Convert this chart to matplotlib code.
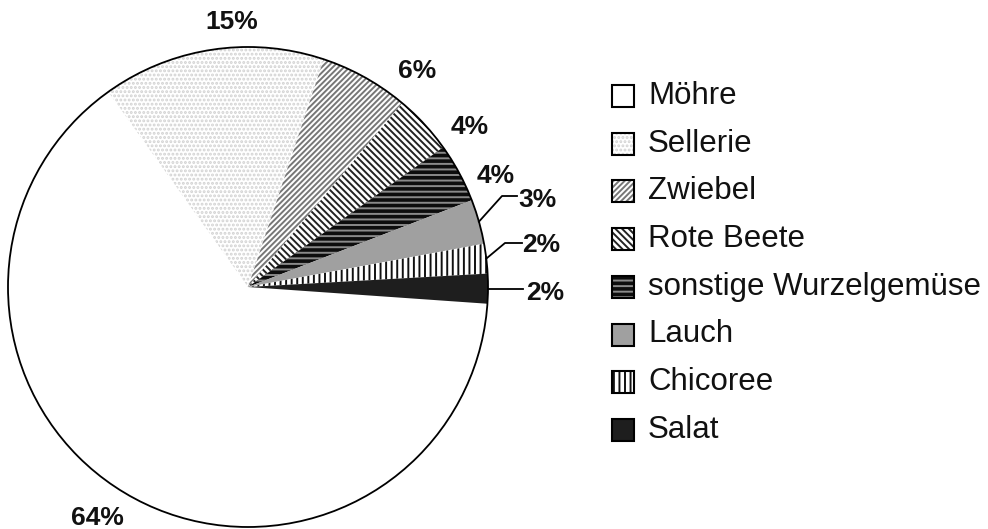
#!/usr/bin/env python3
"""
Pie chart: Anteile der Gemüsearten (Möhre, Sellerie, ...), Schwarz-Weiß-Muster.
"""

import numpy as np
import matplotlib
matplotlib.use("Agg")
import matplotlib.pyplot as plt
from matplotlib.patches import Rectangle, Circle

plt.rcParams['font.family'] = ['Liberation Sans', 'DejaVu Sans']
plt.rcParams['hatch.linewidth'] = 1.4

# --- Data
names = ['Möhre', 'Sellerie', 'Zwiebel', 'Rote Beete',
         'sonstige Wurzelgemüse', 'Lauch', 'Chicoree', 'Salat']
shares = [64, 15, 6, 4, 4, 3, 2, 2]
pct_labels = ['64%', '15%', '6%', '4%', '4%', '3%', '2%', '2%']

# --- Styles (facecolor, hatch, hatch colour)
faces = ['white', 'white', 'white', 'white', '#0d0d0d', '#a0a0a0', 'white', '#1e1e1e']
hatches = [None, '....', '//////', '\\\\\\\\\\', '---', None, '|||', None]
hatch_cols = ['black', '#d2d2d2', '#777777', '#222222', '#8a8a8a', '#a0a0a0', '#111111', '#1e1e1e']

# --- Layout in pixel units (y measured from the top of the image)
W, H = 988, 529
cx, cy, R = 248, 287, 240
label_pos = [(97, 518), (232, 22), (417, 71), (470, 127), (496, 176),
             (537, 200), (541, 245), (545, 293)]
# leader lines: None or (elbow, end)
leaders = [None, None, None, None, None,
           ((502, 196), (517, 196)), ((505, 243), (522, 243)), (None, (523, 293))]

fig = plt.figure(figsize=(W / 100, H / 100), dpi=100)
ax = fig.add_axes([0, 0, 1, 1])

wedges, _ = ax.pie(shares, center=(cx, H - cy), radius=R,
                   startangle=-4, counterclock=False, frame=True)
ax.axis('off')
ax.set_xlim(0, W)
ax.set_ylim(0, H)
ax.set_aspect('equal')

for w, fc, hp, hc in zip(wedges, faces, hatches, hatch_cols):
    w.set_facecolor(fc)
    w.set_edgecolor(hc)
    w.set_linewidth(0)
    if hp:
        w.set_hatch(hp)

ax.add_patch(Circle((cx, H - cy), R, facecolor='none', edgecolor='black', lw=1.3, zorder=5))

# --- percentage labels
for w, txt, (lx, ly), ld in zip(wedges, pct_labels, label_pos, leaders):
    ax.text(lx, H - ly, txt, ha='center', va='center', fontsize=19,
            fontweight='bold', color='#111111')
    if ld is not None:
        mid = np.deg2rad((w.theta1 + w.theta2) / 2)
        sx, sy = cx + R * np.cos(mid), (H - cy) + R * np.sin(mid)
        elbow, end = ld
        xs, ys = [sx], [sy]
        if elbow is not None:
            xs.append(elbow[0]); ys.append(H - elbow[1])
            xs.append(end[0]); ys.append(H - end[1])
        else:
            xs.append(end[0]); ys.append(sy)
        ax.plot(xs, ys, color='black', lw=1.3, zorder=6)

# --- legend (drawn by hand)
box_x, box_s, text_x = 612, 22, 648
row0, row_step = 96, 47.7
for i, (name, fc, hp, hc) in enumerate(zip(names, faces, hatches, hatch_cols)):
    yc = H - (row0 + i * row_step)
    ax.add_patch(Rectangle((box_x, yc - box_s / 2), box_s, box_s, facecolor=fc,
                           edgecolor=hc, lw=0, hatch=hp))
    ax.add_patch(Rectangle((box_x, yc - box_s / 2), box_s, box_s, facecolor='none',
                           edgecolor='black', lw=1.5))
    ax.text(text_x, yc, name, ha='left', va='center', fontsize=22.5, color='#111111')

fig.savefig('out.png', dpi=100)
